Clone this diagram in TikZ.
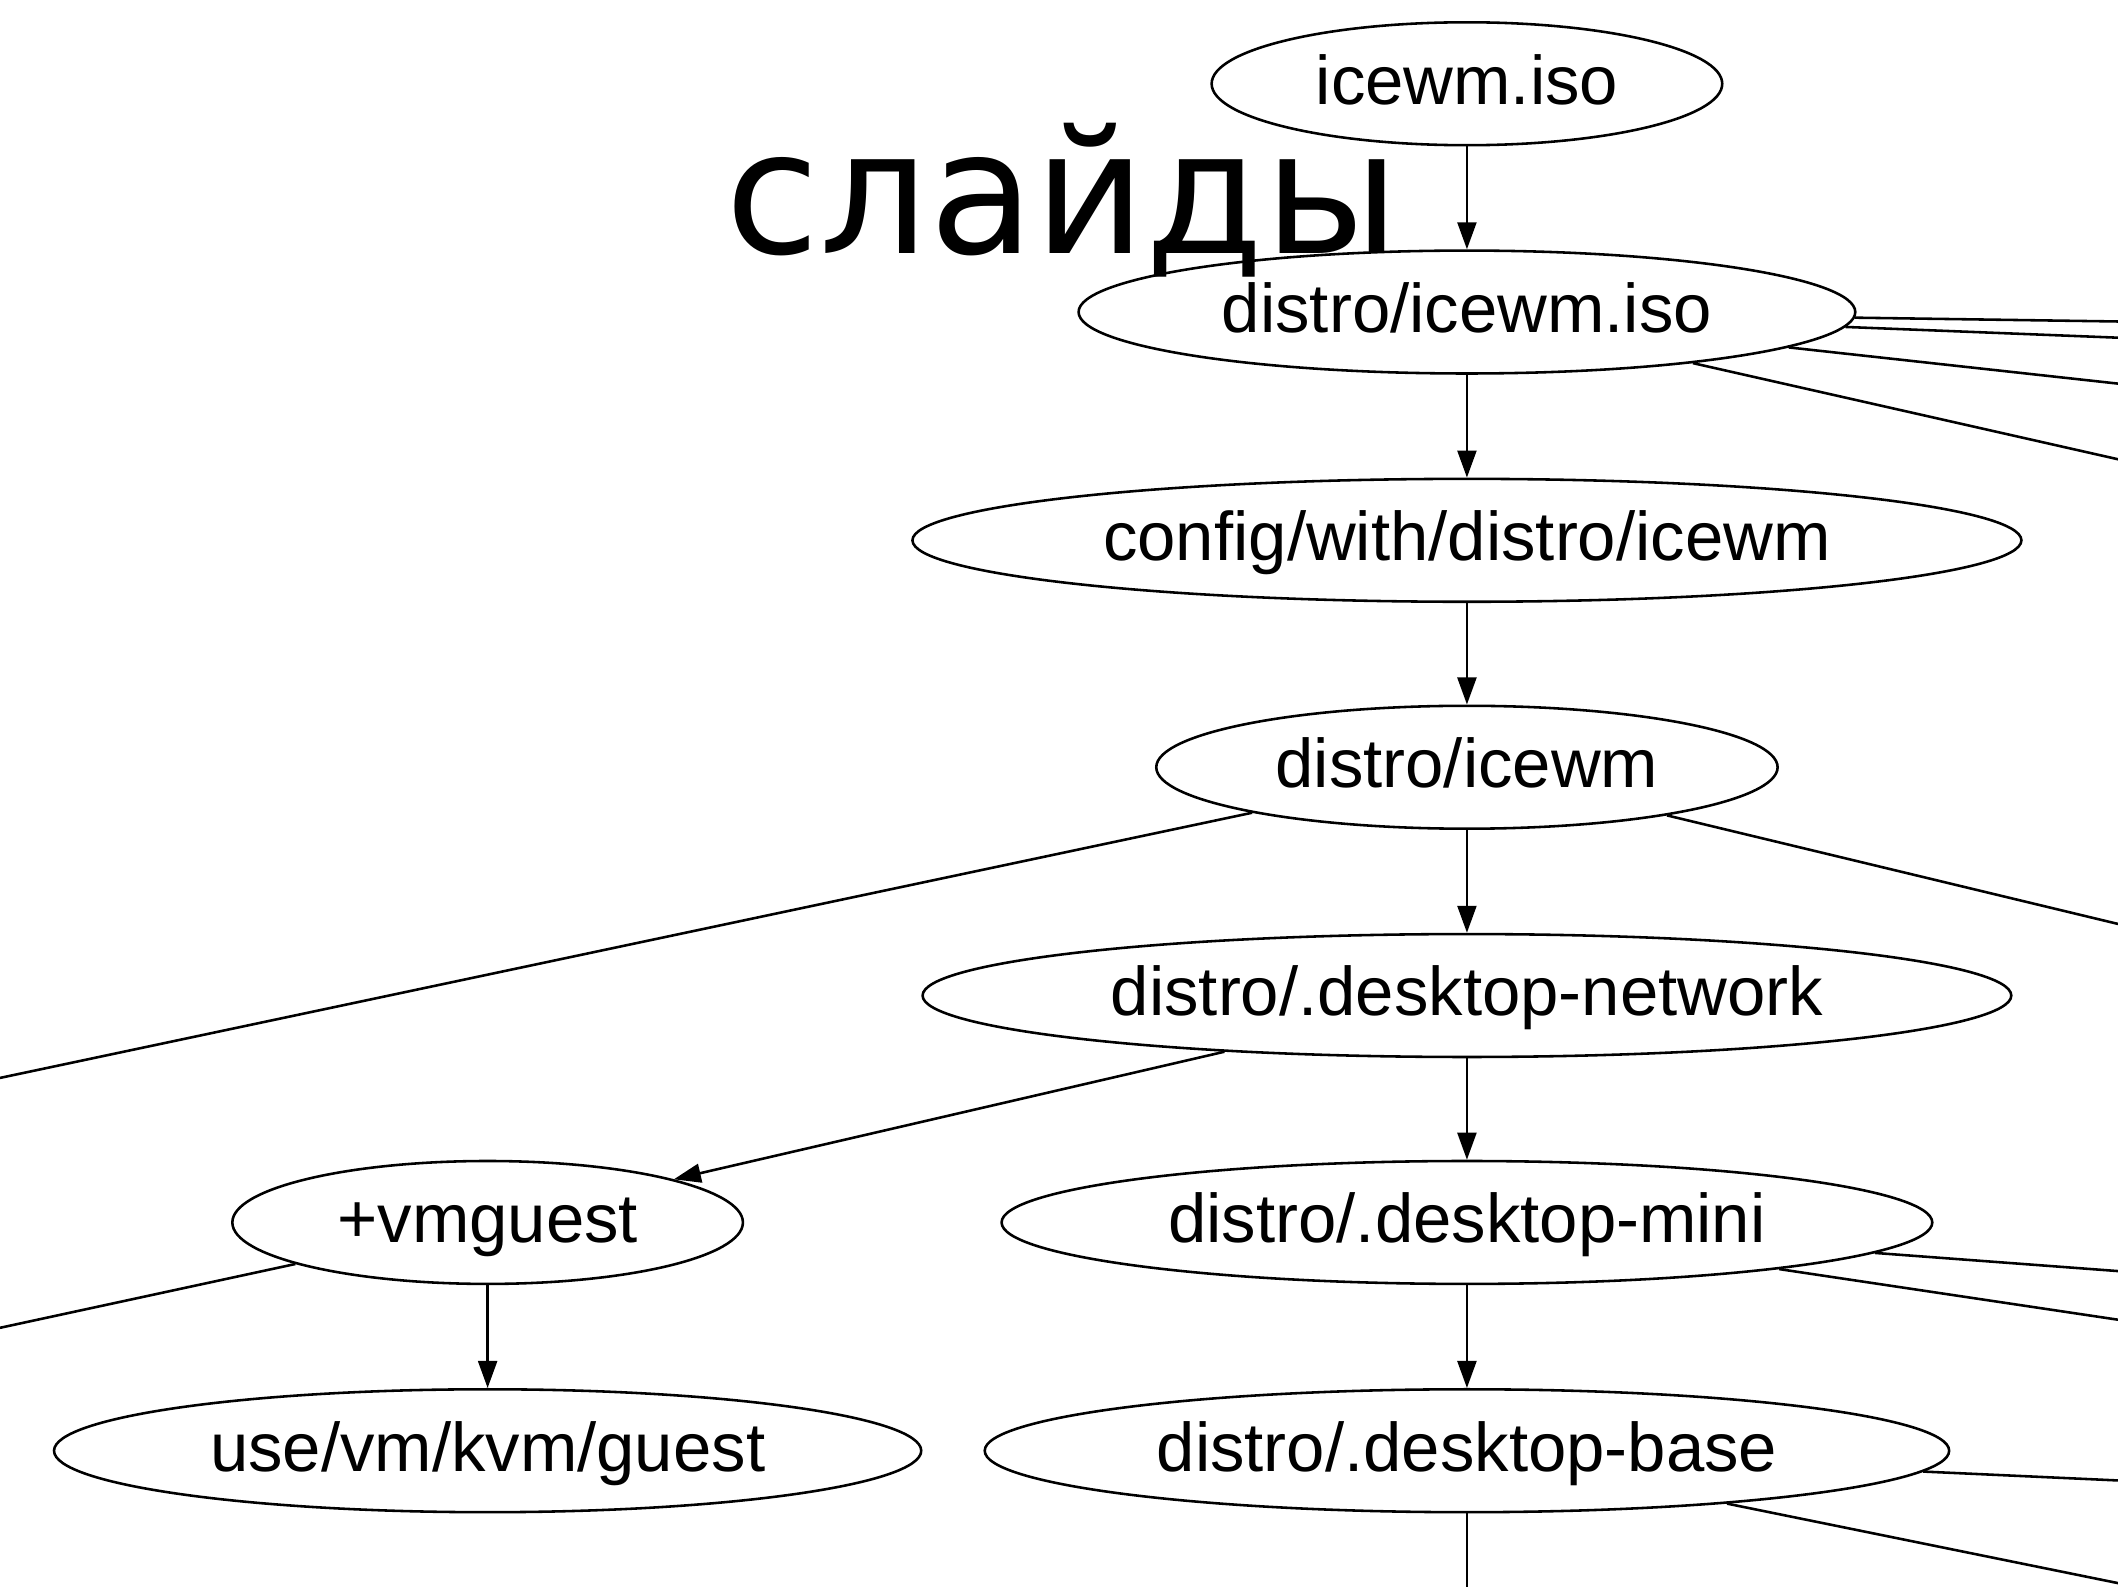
\documentclass[tikz,border=0pt]{standalone}
\usepackage{fontspec}
\setmainfont{Liberation Sans}
\newfontfamily\slidefont{DejaVu Sans}
\usetikzlibrary{shapes.geometric, arrows.meta}

\begin{document}
\begin{tikzpicture}[x=1pt, y=-1pt, line width=1.9pt,
  box/.style={draw, ellipse, inner sep=0pt, minimum height=91pt,
    text height=37pt, text depth=7pt, font=\fontsize{51}{60}\selectfont},
  edge/.style={-{Triangle[length=20pt, width=14pt]}}]
  \useasboundingbox (0, 0) rectangle (1568, 1175);

  \node[box, minimum width=378pt] (iso) at (1086, 62) {icewm.iso};
  \node[box, minimum width=575pt] (distroiso) at (1086, 231) {distro/icewm.iso};
  \node[box, minimum width=821pt] (config) at (1086, 400) {config/with/distro/icewm};
  \node[box, minimum width=460pt] (icewm) at (1086, 568) {distro/icewm};
  \node[box, minimum width=806pt] (network) at (1086, 737) {distro/.desktop-network};
  \node[box, minimum width=378pt] (vmguest) at (361, 905) {+vmguest};
  \node[box, minimum width=689pt] (mini) at (1086, 905) {distro/.desktop-mini};
  \node[box, minimum width=642pt] (kvm) at (361, 1074) {use/vm/kvm/guest};
  \node[box, minimum width=714pt] (base) at (1086, 1074) {distro/.desktop-base};

  \node[anchor=base west, inner sep=0pt,
    font=\slidefont\fontsize{127}{150}\selectfont] (title) at (536, 188) {слайды};

  % edges that leave the picture
  \coordinate (r1) at (1568, 238);
  \coordinate (r2) at (1568, 250);
  \coordinate (r3) at (1568, 284);
  \coordinate (r4) at (1568, 340);
  \coordinate (r5) at (1568, 684);
  \coordinate (l1) at (0, 798);
  \coordinate (l2) at (0, 983);
  \coordinate (r6) at (1568, 941);
  \coordinate (r7) at (1568, 977);
  \coordinate (r8) at (1568, 1096);
  \coordinate (r9) at (1568, 1172);
  \coordinate (down) at (1086, 1175);

  \draw[edge] (iso) -- (distroiso);
  \draw[edge] (distroiso) -- (config);
  \draw[edge] (config) -- (icewm);
  \draw[edge] (icewm) -- (network);
  \draw[edge] (network) -- (vmguest);
  \draw[edge] (network) -- (mini);
  \draw[edge] (vmguest) -- (kvm);
  \draw[edge] (mini) -- (base);

  \draw (distroiso) -- (r1);
  \draw (distroiso) -- (r2);
  \draw (distroiso) -- (r3);
  \draw (distroiso) -- (r4);
  \draw (icewm) -- (r5);
  \draw (icewm) -- (l1);
  \draw (vmguest) -- (l2);
  \draw (mini) -- (r6);
  \draw (mini) -- (r7);
  \draw (base) -- (r8);
  \draw (base) -- (r9);
  \draw (base) -- (down);
\end{tikzpicture}
\end{document}
